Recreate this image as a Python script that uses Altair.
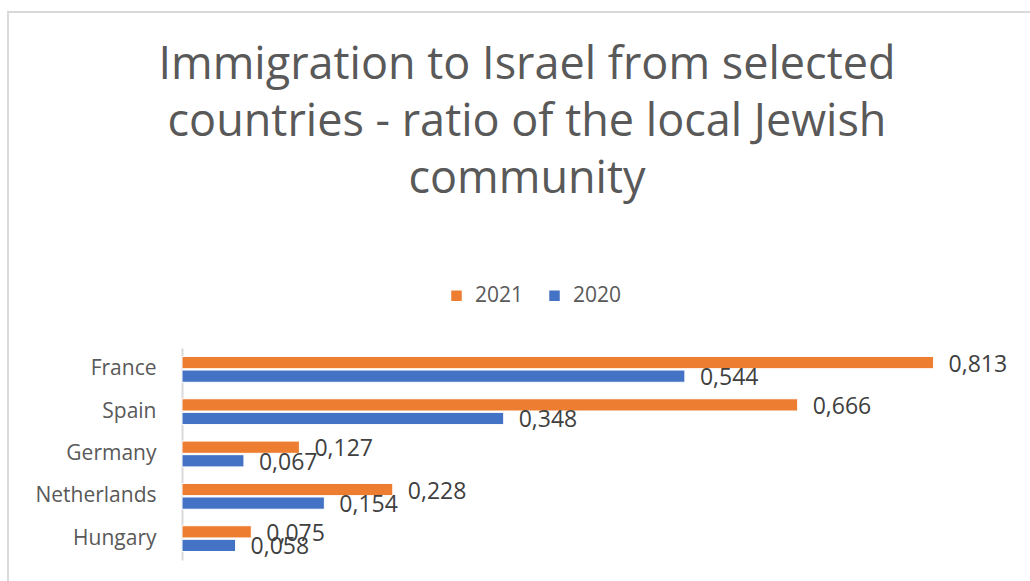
import altair as alt
import pandas as pd

countries = ["France", "Spain", "Germany", "Netherlands", "Hungary"]
values_2021 = [0.813, 0.666, 0.127, 0.228, 0.075]
values_2020 = [0.544, 0.348, 0.067, 0.154, 0.058]
years = ["2021", "2020"]
colors = ["#ED7D31", "#4472C4"]

rows = []
for c, v21, v20 in zip(countries, values_2021, values_2020):
    rows.append({"country": c, "year": "2021", "value": v21})
    rows.append({"country": c, "year": "2020", "value": v20})
df = pd.DataFrame(rows)

FONT = "Open Sans"
GRAY = "#595959"

y_enc = alt.Y("country:N", sort=countries,
              scale=alt.Scale(paddingInner=0.39, paddingOuter=0.2),
              axis=alt.Axis(title=None, ticks=False, labelPadding=26, labelFontSize=21,
                            labelColor=GRAY, labelFont=FONT, domainColor="#d9d9d9",
                            domainWidth=2))
yoff = alt.YOffset("year:N", sort=years, scale=alt.Scale(paddingInner=0.1))
x_enc = alt.X("value:Q", scale=alt.Scale(domain=[0, 0.9]), axis=None)

bars = alt.Chart(df).mark_bar(stroke="white", strokeWidth=1).encode(
    y=y_enc, yOffset=yoff, x=x_enc,
    color=alt.Color("year:N", sort=years,
                    scale=alt.Scale(domain=years, range=colors),
                    legend=alt.Legend(title=None, orient="none", legendX=264, legendY=-63,
                                      direction="horizontal", symbolType="square",
                                      symbolSize=110, symbolStrokeWidth=0,
                                      labelFontSize=21, labelColor=GRAY, labelFont=FONT,
                                      columnPadding=20, labelOffset=8)),
)

labels = alt.Chart(df).transform_calculate(
    label="replace(format(datum.value, '.3f'), '.', ',')"
).mark_text(align="left", baseline="middle", dx=15, dy=2, fontSize=23,
            color="#404040", font=FONT).encode(
    y=alt.Y("country:N", sort=countries), yOffset=alt.YOffset("year:N", sort=years),
    x=alt.X("value:Q"), text="label:N",
)

border_left = alt.Chart(df).mark_rule(color="#d9d9d9", strokeWidth=2).encode(
    x=alt.value(-174), y=alt.value(-336), y2=alt.value(240))
border_top = alt.Chart(df).mark_rule(color="#d9d9d9", strokeWidth=2).encode(
    x=alt.value(-175), x2=alt.value(860), y=alt.value(-336))

chart = alt.layer(border_left, border_top, bars, labels).properties(
    width=832, height=212,
    autosize=alt.AutoSizeParams(type="none"),
    padding={"left": 182, "top": 348, "right": 16, "bottom": 21},
    title=alt.TitleParams(
        text=["Immigration to Israel from selected",
              "countries - ratio of the local Jewish",
              "community"],
        fontSize=45, font=FONT, fontWeight="normal", color=GRAY,
        lineHeight=57, anchor="middle", dx=-71, offset=-236, baseline="bottom"),
).configure_view(stroke=None)

chart.save("out.html", embed_options={"renderer": "svg", "actions": False})
